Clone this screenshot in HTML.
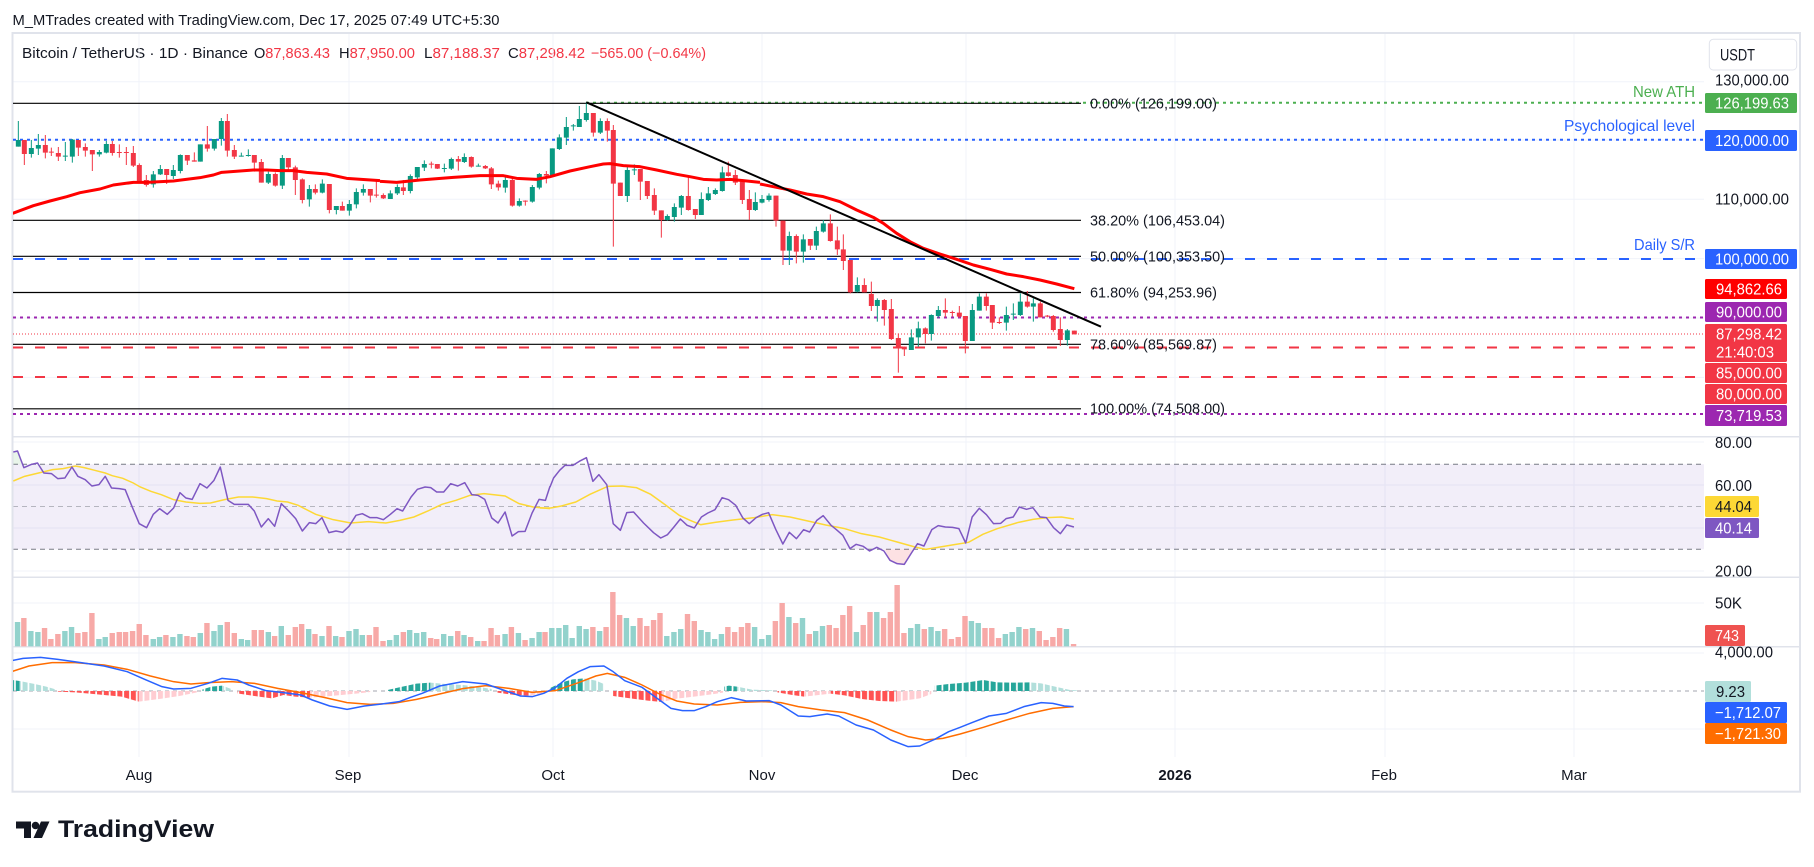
<!DOCTYPE html>
<html><head><meta charset="utf-8"><style>html,body{margin:0;padding:0;background:#fff}svg{display:block}</style></head>
<body>
<svg width="1814" height="867" viewBox="0 0 1814 867" xmlns="http://www.w3.org/2000/svg" font-family="'Liberation Sans', sans-serif">
<defs>
<clipPath id="plot"><rect x="13" y="34" width="1691" height="723"/></clipPath>
<pattern id="st" patternUnits="userSpaceOnUse" x="15.8" y="0" width="6.77" height="867"><rect x="0" y="0" width="5" height="867" fill="#fff"/></pattern>
<mask id="hm" maskUnits="userSpaceOnUse" x="0" y="0" width="1814" height="867"><rect width="1814" height="867" fill="url(#st)"/></mask>
</defs>
<rect width="1814" height="867" fill="#fff"/>

<!-- header -->
<text x="12.5" y="25" font-size="14.5" fill="#131722" textLength="487" lengthAdjust="spacingAndGlyphs">M_MTrades created with TradingView.com, Dec 17, 2025 07:49 UTC+5:30</text>
<text x="22" y="58" font-size="14.5" fill="#131722" textLength="226" lengthAdjust="spacingAndGlyphs">Bitcoin / TetherUS · 1D · Binance</text>
<text x="254" y="58" font-size="14.5" textLength="76" lengthAdjust="spacingAndGlyphs"><tspan fill="#131722">O</tspan><tspan fill="#F23645">87,863.43</tspan></text>
<text x="339" y="58" font-size="14.5" textLength="76" lengthAdjust="spacingAndGlyphs"><tspan fill="#131722">H</tspan><tspan fill="#F23645">87,950.00</tspan></text>
<text x="424" y="58" font-size="14.5" textLength="76" lengthAdjust="spacingAndGlyphs"><tspan fill="#131722">L</tspan><tspan fill="#F23645">87,188.37</tspan></text>
<text x="508" y="58" font-size="14.5" textLength="77" lengthAdjust="spacingAndGlyphs"><tspan fill="#131722">C</tspan><tspan fill="#F23645">87,298.42</tspan></text>
<text x="591" y="58" font-size="14.5" fill="#F23645" textLength="115" lengthAdjust="spacingAndGlyphs">−565.00 (−0.64%)</text>

<!-- grid -->
<g stroke="#F0F3FA" stroke-width="1">
<path d="M139 34V757M349 34V757M553 34V757M762 34V757M966 34V757M1175 34V757M1385 34V757M1574 34V757"/>
<path d="M13 81.7H1704M13 140H1704M13 199.3H1704M13 258.6H1704M13 318H1704M13 377.4H1704M13 442H1704M13 485H1704M13 528H1704M13 571H1704M13 603H1704M13 653H1704M13 729H1704"/>
</g>

<!-- RSI band -->
<rect x="13" y="464.3" width="1691" height="85" fill="#7E57C2" fill-opacity="0.1"/>
<path d="M13 464.3H1704M13 549.3H1704" stroke="#787B86" stroke-width="1" stroke-dasharray="5 4"/>
<path d="M13 506.5H1704" stroke="#787B86" stroke-opacity="0.5" stroke-width="1" stroke-dasharray="5 4"/>

<!-- pane separators & frame -->
<path d="M13 436.7H1800M13 577.3H1800M13 646.7H1800" stroke="#E0E3EB" stroke-width="1.5"/>
<rect x="12.5" y="33" width="1787.5" height="758.7" fill="none" stroke="#E0E3EB" stroke-width="2"/>

<g clip-path="url(#plot)">
<!-- horizontal levels -->
<path d="M13 139.7H1704" stroke="#2962FF" stroke-width="2" stroke-dasharray="3 4"/>
<path d="M586 102.7H1704" stroke="#4CAF50" stroke-width="2" stroke-dasharray="3 4"/>
<path d="M13 259H1697" stroke="#2962FF" stroke-width="2" stroke-dasharray="10 12"/>
<path d="M13 317.5H1704" stroke="#9C27B0" stroke-width="2" stroke-dasharray="3 4"/>
<path d="M13 334H1704" stroke="#F23645" stroke-width="1" stroke-dasharray="1 2"/>
<path d="M13 347.5H1697" stroke="#F23645" stroke-width="2" stroke-dasharray="10 12"/>
<path d="M13 377H1697" stroke="#F23645" stroke-width="2" stroke-dasharray="10 12"/>
<path d="M13 414H1704" stroke="#9C27B0" stroke-width="2" stroke-dasharray="3 4"/>
<!-- fib lines -->
<path d="M13 103.3H1081M13 220.3H1081M13 256.3H1081M13 292.5H1081M13 344.3H1081M13 408.8H1081" stroke="#000" stroke-width="1.2"/>

<!-- candles Z5 -->
<g transform="translate(0,85) scale(0.333333)" fill="none">
<path vector-effect="non-scaling-stroke" stroke="#089981" stroke-width="1" d="M55 108V185 M94 165V218 M115 147V210 M196 171V228 M217 162V233 M298 195V215 M319 168V205 M460 258V308 M481 240V270 M520 240V282 M541 208V265 M601 178V230 M643 162V197 M664 99V182 M724 203V215 M745 193V215 M805 260V297 M847 210V312 M928 300V365 M967 283V325 M1009 363V388 M1048 345V392 M1069 310V370 M1090 298V332"/>
<path vector-effect="non-scaling-stroke" stroke="#089981" stroke-width="5" d="M55 165V185 M94 189V207 M115 180V191 M196 212V215 M217 164V215 M298 201V208 M319 177V203 M460 268V298 M481 252V268 M520 255V273 M541 210V258 M601 178V230 M643 162V191 M664 108V162 M724 212V215 M745 210V213 M805 267V293 M847 219V302 M928 312V343 M967 296V323 M1009 363V375 M1048 357V377 M1069 321V358 M1090 312V323"/>
<path vector-effect="non-scaling-stroke" stroke="#F23645" stroke-width="1" d="M73 165V240 M136 150V220 M154 188V213 M175 186V228 M235 165V213 M256 175V215 M277 195V258 M337 168V212 M358 178V218 M379 186V240 M400 183V246 M418 235V292 M439 270V305 M500 252V297 M562 210V240 M583 202V230 M622 123V200 M682 87V215 M703 180V222 M763 210V260 M784 222V293 M826 262V305 M865 219V258 M886 242V330 M907 280V355 M946 298V328 M988 297V385 M1027 350V377 M1111 312V352 M1129 285V338"/>
<path vector-effect="non-scaling-stroke" stroke="#F23645" stroke-width="5" d="M73 165V207 M136 180V203 M154 200V203 M175 204V215 M235 165V188 M256 186V197 M277 195V208 M337 177V204 M358 201V204 M379 201V204 M400 204V242 M418 240V292 M439 285V300 M500 252V270 M562 210V227 M583 226V230 M622 178V191 M682 108V197 M703 195V215 M763 210V233 M784 231V293 M826 267V302 M865 219V247 M886 247V285 M907 283V345 M946 312V323 M988 297V375 M1027 363V377 M1111 312V332 M1129 329V332"/>
<path vector-effect="non-scaling-stroke" stroke="#FF0000" stroke-width="3" stroke-linejoin="round" d="M38 385 L100 362 L150 348 L200 335 L240 323 L300 312 L340 300 L400 292 L440 292 L520 288 L600 278 L640 270 L665 262 L720 258 L760 255 L800 255 L840 257 L880 257 L920 262 L980 267 L1040 280 L1140 287"/>
</g>

<!-- candles Z6 -->
<g transform="translate(370,85) scale(0.333333)" fill="none">
<path vector-effect="non-scaling-stroke" stroke="#089981" stroke-width="1" d="M61 316V342 M82 298V330 M121 268V325 M142 246V282 M163 226V258 M223 236V262 M244 218V255 M283 205V234 M325 236V245 M406 272V323 M448 340V365 M487 300V353 M508 264V313 M547 190V275 M568 148V195 M589 96V180 M610 117V137 M628 63V126 M649 52V110 M691 100V147 M772 240V351 M793 238V270 M892 388V407 M913 355V410 M934 330V390 M994 322V390 M1015 306V348 M1036 310V330 M1057 245V320 M1156 322V378"/>
<path vector-effect="non-scaling-stroke" stroke="#089981" stroke-width="5" d="M61 325V342 M82 306V325 M121 273V318 M142 246V277 M163 237V248 M223 249V252 M244 222V251 M283 216V231 M325 242V245 M406 285V308 M448 348V362 M487 306V350 M508 267V308 M547 190V272 M568 157V192 M589 126V158 M610 121V124 M628 102V126 M649 84V105 M691 108V143 M772 255V333 M793 253V256 M892 393V405 M913 366V396 M934 333V368 M994 342V390 M1015 325V345 M1036 315V327 M1057 262V318 M1156 351V375"/>
<path vector-effect="non-scaling-stroke" stroke="#F23645" stroke-width="1" d="M40 325V342 M100 285V330 M184 230V250 M202 237V252 M265 213V257 M304 214V248 M346 240V252 M364 246V312 M385 287V317 M427 280V365 M466 346V362 M529 258V295 M670 84V155 M712 100V170 M730 120V485 M751 293V333 M811 252V345 M832 288V342 M853 310V390 M874 376V458 M955 272V377 M976 372V402 M1075 230V275 M1096 255V300 M1117 288V357 M1138 315V405"/>
<path vector-effect="non-scaling-stroke" stroke="#F23645" stroke-width="5" d="M40 330V340 M100 307V318 M184 236V239 M202 237V251 M265 222V230 M304 216V245 M346 243V250 M364 250V298 M385 296V307 M427 285V362 M466 347V350 M529 267V272 M670 84V143 M712 108V137 M730 135V296 M751 293V333 M811 252V290 M832 288V333 M853 330V377 M874 376V405 M955 333V375 M976 372V390 M1075 262V273 M1096 270V293 M1117 290V345 M1138 342V375"/>
<path vector-effect="non-scaling-stroke" stroke="#FF0000" stroke-width="3" stroke-linejoin="round" d="M30 289 L80 292 L150 285 L250 277 L330 272 L400 272 L440 280 L500 283 L540 275 L600 258 L660 245 L700 237 L720 236 L760 242 L810 245 L860 255 L920 268 L960 275 L1000 283 L1040 285 L1080 283 L1120 287 L1170 292"/>
</g>

<!-- candles Z7 -->
<g transform="translate(740,180) scale(0.333333)" fill="none">
<path vector-effect="non-scaling-stroke" stroke="#089981" stroke-width="1" d="M66 45V70 M87 40V65 M148 155V255 M190 163V248 M229 140V210 M250 120V158 M352 292V337 M412 355V425 M514 448V510 M535 425V500 M574 403V482 M595 378V413 M697 372V483 M718 340V392 M799 380V452 M820 370V420 M841 340V408 M880 355V425 M982 447V497"/>
<path vector-effect="non-scaling-stroke" stroke="#089981" stroke-width="5" d="M66 57V68 M87 47V60 M148 168V212 M190 178V215 M229 153V197 M250 130V155 M352 315V335 M412 360V378 M514 472V510 M535 445V472 M574 405V462 M595 390V408 M697 390V483 M718 350V392 M799 405V428 M820 401V404 M841 365V405 M880 370V380 M982 451V480"/>
<path vector-effect="non-scaling-stroke" stroke="#F23645" stroke-width="1" d="M108 47V140 M129 122V255 M169 163V250 M211 177V210 M271 103V185 M292 140V225 M310 163V270 M331 240V340 M373 295V337 M394 305V393 M433 357V437 M454 357V480 M475 460V578 M493 500V528 M556 442V490 M616 355V412 M637 392V410 M658 378V413 M676 408V520 M739 340V392 M757 375V447 M778 412V432 M862 333V383 M901 365V412 M922 405V412 M940 405V455 M961 412V498 M1003 452V463"/>
<path vector-effect="non-scaling-stroke" stroke="#F23645" stroke-width="5" d="M108 47V122 M129 122V212 M169 168V215 M211 177V197 M271 130V183 M292 181V208 M310 208V243 M331 240V337 M373 315V337 M394 342V378 M433 360V390 M454 387V477 M475 474V500 M493 500V508 M556 445V462 M616 390V398 M637 396V399 M658 398V410 M676 408V483 M739 350V378 M757 375V428 M778 426V429 M862 365V380 M901 370V412 M922 407V410 M940 408V450 M961 447V480 M1003 452V463"/>
<path vector-effect="non-scaling-stroke" stroke="#FF0000" stroke-width="3" stroke-linejoin="round" d="M60 12 L100 20 L150 30 L200 42 L250 50 L300 65 L350 90 L400 112 L430 130 L470 160 L510 185 L550 205 L600 222 L650 238 L700 255 L750 268 L800 282 L850 290 L900 300 L950 312 L1003 326"/>
</g>

<!-- trendline -->
<path d="M586.3 102.3 L1101 326.7" stroke="#000" stroke-width="2"/>

<!-- RSI Z9 -->
<g transform="translate(0,437) scale(0.35075,0.333333)" fill="none">
<path d="M38 82 L38 45 L50 42 L62 82 Z" fill="#4CAF50" fill-opacity="0.12"/>
<polyline vector-effect="non-scaling-stroke" stroke="#FDD835" stroke-width="1.5" points="38,132 70,118 110,108 150,98 180,95 215,87 240,92 270,100 300,108 320,116 350,124 380,138 400,150 430,163 460,173 495,188 530,195 570,199 600,198 640,188 680,180 720,180 760,185 790,192 820,195 850,205 900,232 950,248 1000,258 1050,254 1100,258 1140,250 1180,240 1220,222 1260,202 1300,190 1340,175 1380,170 1440,177 1480,200 1520,210 1568,215"/>
<polyline vector-effect="non-scaling-stroke" stroke="#7E57C2" stroke-width="1.5" stroke-linejoin="round" points="38,45 50,42 68,92 90,82 107,78 125,108 147,110 165,125 185,123 205,90 222,118 243,128 262,147 282,143 300,118 318,153 340,155 357,158 375,205 397,260 418,272 437,232 455,215 477,232 495,213 513,167 530,183 548,187 570,140 590,153 610,130 628,90 650,190 668,202 708,202 725,222 745,270 765,245 783,268 802,200 823,222 843,245 862,282 882,257 900,260 918,242 938,287 958,282 977,286 995,268 1015,235 1033,230 1055,242 1075,242 1093,248 1113,232 1132,215 1148,222 1172,180 1190,157 1212,150 1228,152 1245,165 1265,165 1285,140 1305,147 1325,137 1345,173 1363,175 1382,187 1402,243 1420,258 1440,225 1460,297 1478,284 1497,283 1517,228 1537,187 1555,190 1568,148"/>
<!-- volume Z9 -->
<path vector-effect="non-scaling-stroke" stroke="#92D2CC" stroke-width="5.4" d="M50 555V628 M88 582V628 M108 585V628 M185 582V628 M204 570V628 M282 606V628 M300 600V628 M437 606V628 M455 600V628 M493 600V628 M513 591V628 M571 588V628 M610 582V628 M628 564V628 M688 606V628 M706 609V628 M765 585V628 M802 567V628 M880 576V628 M918 597V628 M957 597V628 M995 582V628 M1015 576V628 M1033 594V628 M1111 609V628 M1130 594V628 M1168 579V628 M1188 588V628 M1208 585V628 M1265 591V628 M1285 597V628 M1323 594V628 M1362 612V628 M1440 591V628 M1478 588V628 M1517 603V628 M1537 585V628"/>
<path vector-effect="non-scaling-stroke" stroke="#F7A9A7" stroke-width="5.4" d="M68 543V628 M127 573V628 M145 606V628 M165 591V628 M222 588V628 M242 585V628 M262 528V628 M320 588V628 M340 585V628 M358 585V628 M378 582V628 M397 561V628 M416 594V628 M473 594V628 M533 597V628 M551 600V628 M590 558V628 M648 555V628 M668 588V628 M725 579V628 M745 579V628 M783 597V628 M822 594V628 M842 570V628 M860 561V628 M898 591V628 M938 567V628 M975 600V628 M1053 594V628 M1072 570V628 M1092 612V628 M1150 585V628 M1228 603V628 M1245 606V628 M1305 582V628 M1342 600V628 M1380 612V628 M1400 573V628 M1418 594V628 M1458 570V628 M1497 609V628"/>
</g>

<!-- RSI Z10 -->
<g transform="translate(540,437) scale(0.357143,0.333333)" fill="none">
<path d="M965 337 L980 370 L1000 380 L1020 382 L1040 348 L1046 337 Z" fill="#F23645" fill-opacity="0.15"/>
<polyline vector-effect="non-scaling-stroke" stroke="#FDD835" stroke-width="1.5" points="0,213 30,213 60,207 100,195 140,172 190,148 230,147 270,152 310,172 350,203 390,235 420,250 450,263 490,256 540,249 600,242 650,233 700,240 750,252 800,264 850,274 900,290 950,300 1000,315 1050,330 1080,337 1120,330 1160,323 1200,316 1240,292 1280,275 1340,256 1380,247 1420,242 1460,240 1495,246"/>
<polyline vector-effect="non-scaling-stroke" stroke="#7E57C2" stroke-width="1.5" stroke-linejoin="round" points="28,150 38,123 55,100 70,85 92,85 110,73 130,62 148,133 165,113 187,143 205,260 225,280 243,227 262,225 290,258 318,287 338,303 357,293 375,270 393,246 412,265 432,273 452,240 470,228 490,218 510,182 528,188 548,205 568,243 586,260 605,242 623,232 640,227 660,277 680,321 698,286 718,305 738,278 755,285 775,250 793,236 815,265 830,278 848,295 868,335 885,322 905,328 923,342 943,331 963,342 980,370 1000,380 1020,382 1040,348 1057,320 1075,327 1097,278 1115,266 1135,270 1155,271 1173,275 1192,318 1210,240 1230,214 1250,233 1270,260 1290,259 1305,245 1325,240 1342,210 1362,217 1380,212 1400,240 1418,242 1438,272 1457,290 1475,264 1495,270"/>
<!-- volume Z10 -->
<path vector-effect="non-scaling-stroke" stroke="#92D2CC" stroke-width="5.4" d="M33 573V628 M53 573V628 M72 564V628 M90 603V628 M110 567V628 M129 576V628 M167 582V628 M242 543V628 M261 567V628 M355 597V628 M375 585V628 M394 576V628 M451 579V628 M470 585V628 M489 606V628 M508 591V628 M601 570V628 M621 606V628 M640 594V628 M697 540V628 M735 543V628 M772 582V628 M791 567V628 M886 585V628 M943 525V628 M1038 573V628 M1057 561V628 M1095 570V628 M1114 582V628 M1208 552V628 M1227 558V628 M1303 591V628 M1322 585V628 M1341 570V628 M1379 573V628 M1474 576V628"/>
<path vector-effect="non-scaling-stroke" stroke="#F7A9A7" stroke-width="5.4" d="M14 585V628 M148 570V628 M185 570V628 M204 465V628 M223 534V628 M280 543V628 M299 567V628 M318 549V628 M336 528V628 M413 531V628 M432 552V628 M526 570V628 M545 585V628 M564 570V628 M582 558V628 M659 552V628 M678 498V628 M716 558V628 M754 591V628 M810 564V628 M829 573V628 M848 534V628 M867 507V628 M905 564V628 M924 525V628 M962 543V628 M981 525V628 M1000 444V628 M1019 588V628 M1076 576V628 M1133 576V628 M1152 606V628 M1171 600V628 M1190 537V628 M1246 573V628 M1265 573V628 M1284 603V628 M1360 576V628 M1398 582V628 M1417 609V628 M1436 600V628 M1455 573V628 M1494 621V628"/>
</g>

<!-- MACD -->
<path d="M13 691H1704" stroke="#A3A6AF" stroke-width="1" stroke-dasharray="4 4"/>
<g mask="url(#hm)">
<g transform="translate(0,640) scale(1.15688,0.333333)">
<g fill="#26A69A">
<path d="M10 153V120L17 123V153Z"/><path d="M175 153V148L183 140L192 137V153Z"/><path d="M335 153V150L345 142L360 131L372 128V153Z"/><path d="M475 153V145L485 128L495 118L505 115V153Z"/><path d="M626 153V140L630 137L637 140V153Z"/><path d="M808 153V137L820 132L835 128L850 120L862 127L875 128L890 127V153Z"/>
</g>
<g fill="#B2DFDB">
<path d="M17 153V123L30 132L40 140L48 148V153Z"/><path d="M192 153V137L200 147V153Z"/><path d="M372 153V128L385 132L400 135L412 140L425 147V153Z"/><path d="M505 153V115L515 122L522 132V153Z"/><path d="M637 153V140L650 149L668 151V153Z"/><path d="M890 153V127L900 130L912 140L925 150L931 151V153Z"/>
</g>
<g fill="#FF5252">
<path d="M50 153V155L65 157L75 160L90 165L105 170L120 185V153Z"/><path d="M205 153V160L220 168L235 175L245 165L255 170L268 173V153Z"/><path d="M430 153V158L445 165L458 167V153Z"/><path d="M530 153V168L545 175L560 182L572 186V153Z"/><path d="M672 153V157L685 165L695 170V153Z"/><path d="M718 153V161L730 166L745 177L760 183L775 185V153Z"/>
</g>
<g fill="#FFCDD2">
<path d="M120 153V185L140 176L155 168L172 156V153Z"/><path d="M268 153V173L280 170L295 165L310 160L320 156V153Z"/><path d="M458 153V167L472 158V153Z"/><path d="M572 153V186L585 176L600 170L615 163L625 158V153Z"/><path d="M695 153V170L705 166L718 161V153Z"/><path d="M775 153V185L785 180L795 175L805 162V153Z"/>
</g>
</g>
</g>
<g transform="translate(0,640) scale(1.15688,0.333333)" fill="none">
<polyline vector-effect="non-scaling-stroke" stroke="#FF6D00" stroke-width="1.5" points="10,95 25,78 45,68 65,68 90,75 110,88 130,108 150,125 165,132 180,128 200,125 220,130 240,145 260,158 280,172 300,188 320,193 340,190 360,178 380,162 400,146 420,137 440,145 460,157 480,152 500,128 515,108 525,100 540,112 555,135 570,162 585,183 600,192 620,195 640,187 660,185 675,188 690,200 710,210 730,218 750,240 770,270 785,290 800,300 815,295 830,282 850,262 870,240 890,220 910,205 928,200"/>
<polyline vector-effect="non-scaling-stroke" stroke="#2962FF" stroke-width="1.5" stroke-linejoin="round" points="10,62 20,55 35,52 50,58 70,68 90,78 110,95 125,118 140,140 150,147 165,145 180,130 192,115 205,120 215,135 230,152 245,158 260,165 270,180 285,198 300,208 315,198 330,192 345,185 355,172 365,160 380,138 400,125 420,132 435,150 450,168 460,170 470,160 480,143 490,115 500,95 510,80 522,78 530,95 540,122 555,142 570,180 580,205 590,212 600,212 610,200 620,185 632,173 645,183 665,182 675,195 690,228 700,230 715,222 725,228 740,255 755,270 770,300 785,320 795,318 808,298 820,275 830,262 840,248 855,228 870,220 885,200 900,188 910,190 920,198 928,200"/>
</g>
</g>

<!-- chart texts -->
<g font-size="15" fill="#131722">
<text x="1090" y="108.5" textLength="127" lengthAdjust="spacingAndGlyphs">0.00% (126,199.00)</text>
<text x="1090" y="225.5" textLength="135" lengthAdjust="spacingAndGlyphs">38.20% (106,453.04)</text>
<text x="1090" y="261.5" textLength="135" lengthAdjust="spacingAndGlyphs">50.00% (100,353.50)</text>
<text x="1090" y="297.5" textLength="127" lengthAdjust="spacingAndGlyphs">61.80% (94,253.96)</text>
<text x="1090" y="349.5" textLength="127" lengthAdjust="spacingAndGlyphs">78.60% (85,569.87)</text>
<text x="1090" y="413.5" textLength="135" lengthAdjust="spacingAndGlyphs">100.00% (74,508.00)</text>
</g>
<text x="1633" y="97" font-size="16" fill="#4CAF50" textLength="62" lengthAdjust="spacingAndGlyphs">New ATH</text>
<text x="1564" y="131" font-size="16" fill="#2962FF" textLength="131" lengthAdjust="spacingAndGlyphs">Psychological level</text>
<text x="1634" y="250" font-size="16" fill="#2962FF" textLength="61" lengthAdjust="spacingAndGlyphs">Daily S/R</text>

<!-- price axis -->
<g font-size="16" fill="#131722">
<text x="1715" y="85.5" textLength="74" lengthAdjust="spacingAndGlyphs">130,000.00</text>
<text x="1715" y="204.5" textLength="74" lengthAdjust="spacingAndGlyphs">110,000.00</text>
<text x="1715" y="448" textLength="37" lengthAdjust="spacingAndGlyphs">80.00</text>
<text x="1715" y="491" textLength="37" lengthAdjust="spacingAndGlyphs">60.00</text>
<text x="1715" y="576.5" textLength="37" lengthAdjust="spacingAndGlyphs">20.00</text>
<text x="1715" y="608.5" textLength="27" lengthAdjust="spacingAndGlyphs">50K</text>
<text x="1715" y="657.5" textLength="58" lengthAdjust="spacingAndGlyphs">4,000.00</text>
</g>
<rect x="1709.3" y="39.3" width="87.4" height="30.7" rx="4" fill="#fff" stroke="#E0E3EB" stroke-width="1"/>
<text x="1720" y="60.5" font-size="17" fill="#131722" textLength="35" lengthAdjust="spacingAndGlyphs">USDT</text>

<rect x="1705" y="93" width="92" height="20" rx="1.5" fill="#4CAF50"/>
<rect x="1705" y="130" width="92" height="21" rx="1.5" fill="#2962FF"/>
<rect x="1705" y="249" width="92" height="20" rx="1.5" fill="#2962FF"/>
<rect x="1705" y="279" width="82" height="20" rx="1.5" fill="#FF0000"/>
<rect x="1705" y="302" width="82" height="20" rx="1.5" fill="#9C27B0"/>
<rect x="1705" y="324" width="82" height="38" rx="1.5" fill="#F23645"/>
<rect x="1705" y="363" width="82" height="20" rx="1.5" fill="#F23645"/>
<rect x="1705" y="384" width="82" height="20" rx="1.5" fill="#F23645"/>
<rect x="1705" y="405" width="82" height="21" rx="1.5" fill="#9C27B0"/>
<rect x="1705" y="496" width="54" height="21" rx="1.5" fill="#FDD835"/>
<rect x="1705" y="518" width="54" height="20" rx="1.5" fill="#7E57C2"/>
<rect x="1705" y="625" width="40" height="21" rx="1.5" fill="#EF5350"/>
<rect x="1705" y="681" width="46" height="21" rx="1.5" fill="#B2DFDB"/>
<rect x="1705" y="702" width="82" height="21" rx="1.5" fill="#2962FF"/>
<rect x="1705" y="723" width="82" height="21" rx="1.5" fill="#FF6D00"/>
<g font-size="16" fill="#fff">
<text x="1715" y="108.5" textLength="74" lengthAdjust="spacingAndGlyphs">126,199.63</text>
<text x="1715" y="146" textLength="74" lengthAdjust="spacingAndGlyphs">120,000.00</text>
<text x="1715" y="264.5" textLength="74" lengthAdjust="spacingAndGlyphs">100,000.00</text>
<text x="1716" y="294.5" textLength="66" lengthAdjust="spacingAndGlyphs">94,862.66</text>
<text x="1716" y="317.5" textLength="66" lengthAdjust="spacingAndGlyphs">90,000.00</text>
<text x="1716" y="339.5" textLength="66" lengthAdjust="spacingAndGlyphs">87,298.42</text>
<text x="1716" y="357.5" textLength="58" lengthAdjust="spacingAndGlyphs">21:40:03</text>
<text x="1716" y="378.5" textLength="66" lengthAdjust="spacingAndGlyphs">85,000.00</text>
<text x="1716" y="399.5" textLength="66" lengthAdjust="spacingAndGlyphs">80,000.00</text>
<text x="1716" y="421" textLength="66" lengthAdjust="spacingAndGlyphs">73,719.53</text>
<text x="1715" y="533.5" textLength="37" lengthAdjust="spacingAndGlyphs">40.14</text>
<text x="1715" y="641" textLength="24" lengthAdjust="spacingAndGlyphs">743</text>
<text x="1715" y="718" textLength="66" lengthAdjust="spacingAndGlyphs">−1,712.07</text>
<text x="1715" y="739" textLength="66" lengthAdjust="spacingAndGlyphs">−1,721.30</text>
</g>
<text x="1715" y="512" font-size="16" fill="#131722" textLength="37" lengthAdjust="spacingAndGlyphs">44.04</text>
<text x="1716" y="697" font-size="16" fill="#131722" textLength="29" lengthAdjust="spacingAndGlyphs">9.23</text>

<!-- time axis -->
<g font-size="15" fill="#131722" text-anchor="middle">
<text x="139" y="780">Aug</text>
<text x="348" y="780">Sep</text>
<text x="553" y="780">Oct</text>
<text x="762" y="780">Nov</text>
<text x="965" y="780">Dec</text>
<text x="1175" y="780" font-weight="bold">2026</text>
<text x="1384" y="780">Feb</text>
<text x="1574" y="780">Mar</text>
</g>

<!-- logo -->
<g fill="#131722">
<path d="M16 821.5H31V838H24V828.5H16Z"/>
<circle cx="35.5" cy="825.5" r="3.8"/>
<path d="M41 821.5H49.5L42 838H33.5Z"/>
</g>
<text x="58" y="837" font-size="24" font-weight="bold" fill="#131722" textLength="156" lengthAdjust="spacingAndGlyphs">TradingView</text>
</svg>
</body></html>
